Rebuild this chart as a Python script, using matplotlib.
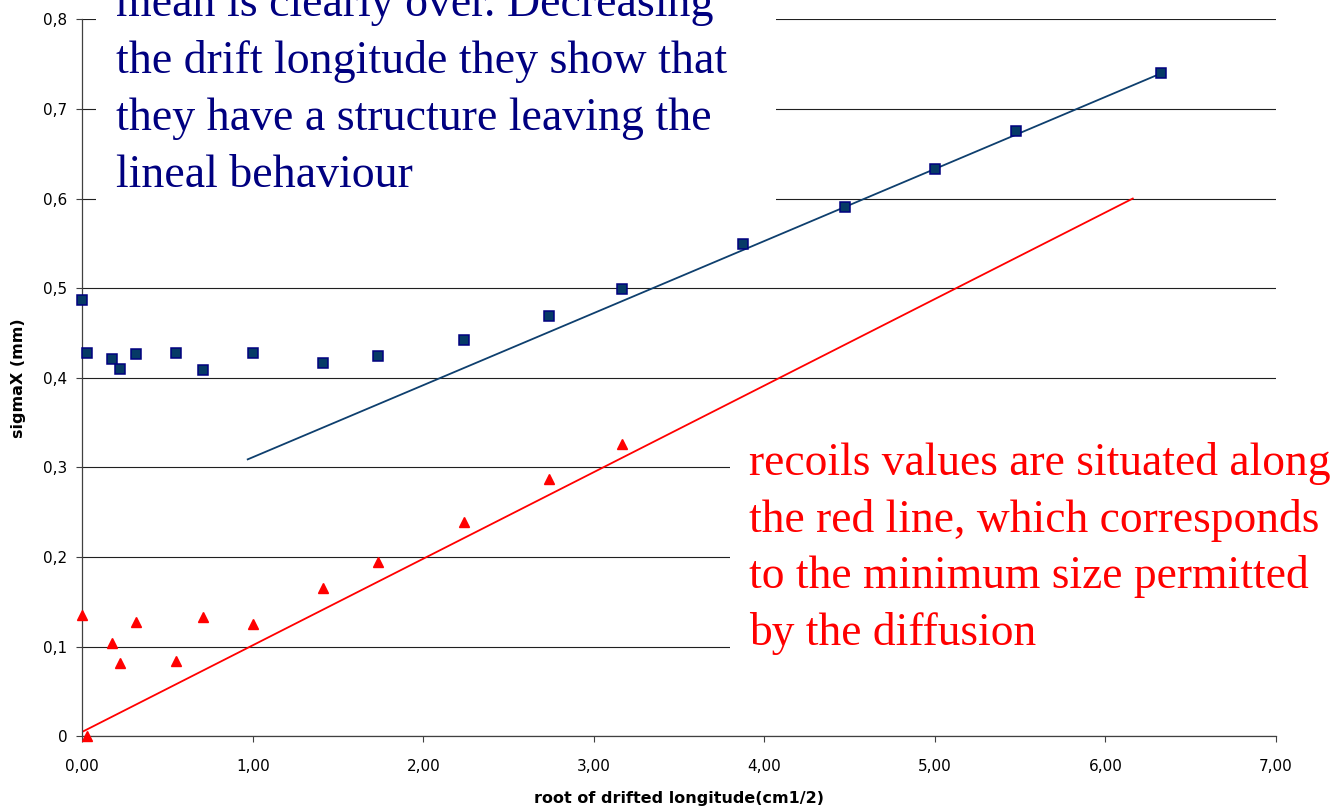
import matplotlib.pyplot as plt
from matplotlib.patches import Rectangle

# Datos
root_drift = [0.0, 0.03, 0.173, 0.224, 0.316, 0.548, 0.707, 1.0, 1.414, 1.732,
              2.236, 2.739, 3.162, 3.873, 4.472, 5.0, 5.477, 6.325]
sigma_all = [0.487, 0.428, 0.421, 0.410, 0.426, 0.428, 0.409, 0.428, 0.416, 0.424,
             0.442, 0.469, 0.499, 0.549, 0.591, 0.633, 0.675, 0.740]

root_drift_recoils = [0.0, 0.03, 0.173, 0.224, 0.316, 0.548, 0.707, 1.0, 1.414,
                      1.732, 2.236, 2.739, 3.162]
sigma_recoils = [0.135, 0.0, 0.104, 0.082, 0.127, 0.084, 0.133, 0.125, 0.165,
                 0.194, 0.239, 0.287, 0.326]

# rectas de tendencia (extremos)
fit_blue_x = [0.97, 6.33]
fit_blue_y = [0.309, 0.740]
fit_red_x = [0.0, 6.16]
fit_red_y = [0.005, 0.600]

x_ticks = [0, 1, 2, 3, 4, 5, 6, 7]
x_tick_labels = ["0,00", "1,00", "2,00", "3,00", "4,00", "5,00", "6,00", "7,00"]
y_ticks = [0, 0.1, 0.2, 0.3, 0.4, 0.5, 0.6, 0.7, 0.8]
y_tick_labels = ["0", "0,1", "0,2", "0,3", "0,4", "0,5", "0,6", "0,7", "0,8"]

blue_text = ["mean is clearly over. Decreasing",
             "the drift longitude they show that",
             "they have a structure leaving the",
             "lineal behaviour"]
red_text = ["recoils values are situated along",
            "the red line, which corresponds",
            "to the minimum size permitted",
            "by the diffusion"]

W, H = 1339, 808
fig = plt.figure(figsize=(W / 100, H / 100), dpi=100)
ax = fig.add_axes([82.3 / W, 1 - 736.3 / H, (1276 - 82.3) / W, (736.3 - 19.3) / H])

ax.set_axisbelow(True)
ax.grid(True, axis='y', color='#202020', linewidth=0.8)
ax.grid(False, axis='x')

ax.plot(fit_blue_x, fit_blue_y, color='#0E3F6E', linewidth=1.3, zorder=2)
ax.plot(fit_red_x, fit_red_y, color='#FF0000', linewidth=1.3, zorder=2)

ax.plot(root_drift, sigma_all, linestyle='none', marker='s', markersize=7.2,
        markerfacecolor='#063A66', markeredgecolor='#000080', markeredgewidth=1.1,
        zorder=3, clip_on=False)
ax.plot(root_drift_recoils, sigma_recoils, linestyle='none', marker='^',
        markersize=7.5, color='#FF0000', zorder=3, clip_on=False)

ax.set_xlim(0, 7)
ax.set_ylim(0, 0.8)
ax.set_xticks(x_ticks)
ax.set_xticklabels(x_tick_labels, fontsize=11, family='DejaVu Sans')
ax.set_yticks(y_ticks)
ax.set_yticklabels(y_tick_labels, fontsize=11, family='DejaVu Sans')
ax.tick_params(axis='x', direction='out', length=4.3, width=0.8, color='#404040', pad=12)
ax.tick_params(axis='y', direction='out', length=4.3, width=0.8, color='#404040', pad=6.5)

for side in ['top', 'right']:
    ax.spines[side].set_visible(False)
for side in ['left', 'bottom']:
    ax.spines[side].set_color('#404040')
    ax.spines[side].set_linewidth(0.9)

ax.set_xlabel("root of drifted longitude(cm1/2)", fontsize=11.5, fontweight='bold',
              family='DejaVu Sans', labelpad=12)
ax.set_ylabel("sigmaX (mm)", fontsize=11.5, fontweight='bold',
              family='DejaVu Sans', labelpad=12)

# cajas blancas de los textos sobre la rejilla
box_blue = Rectangle((96 / W, 1 - 228 / H), (776 - 96) / W, 228 / H,
                     transform=fig.transFigure, facecolor='white', edgecolor='none',
                     zorder=1, clip_on=False)
box_red = Rectangle((730 / W, 1 - 700 / H), (W - 730) / W, (700 - 438) / H,
                    transform=fig.transFigure, facecolor='white', edgecolor='none',
                    zorder=1, clip_on=False)
ax.add_patch(box_blue)
ax.add_patch(box_red)

blue_baselines = [16, 73, 130, 187]
for line, yb in zip(blue_text, blue_baselines):
    fig.text(116 / W, 1 - yb / H, line, color='#000080', fontsize=33,
             family='Liberation Serif', va='baseline', ha='left')

red_baselines = [475, 532, 588, 645]
for line, yb in zip(red_text, red_baselines):
    fig.text(749 / W, 1 - yb / H, line, color='#FF0000', fontsize=32.8,
             family='Liberation Serif', va='baseline', ha='left')

fig.savefig("out.png", dpi=100)
